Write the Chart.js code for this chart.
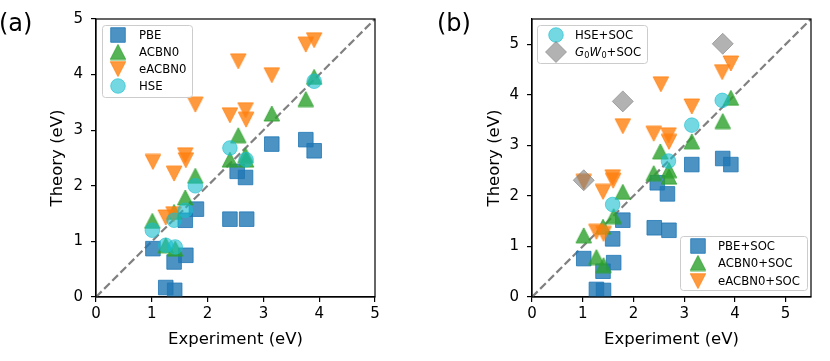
<!DOCTYPE html>
<html><head><meta charset="utf-8">
<script src="https://cdn.jsdelivr.net/npm/chart.js@4/dist/chart.umd.min.js"></script>
<style>
html,body{margin:0;padding:0;background:#fff;}
#wrap{position:relative;width:830px;height:361px;overflow:hidden;}
canvas{position:absolute;top:0;}
#ca{left:0;} #cb{left:415px;}
</style></head><body>
<div id="wrap"><canvas id="ca" width="415" height="361"></canvas><canvas id="cb" width="415" height="361"></canvas></div>
<script>
// ---------- Panel (a) data ----------
const pbeX    = [1.02,1.25,1.41,1.40,1.61,1.60,1.80,2.40,2.70,2.53,2.68,3.15,3.76,3.91];
const pbeY    = [0.87,0.17,0.12,0.63,0.75,1.38,1.58,1.40,1.40,2.26,2.15,2.75,2.83,2.63];
const acbn0X  = [1.01,1.25,1.42,1.40,1.60,1.78,2.40,2.55,2.69,2.68,3.15,3.76,3.91];
const acbn0Y  = [1.37,0.93,0.87,1.53,1.79,2.18,2.47,2.91,2.47,2.55,3.30,3.56,3.96];
const eacbn0X = [1.02,1.40,1.25,1.39,1.60,1.61,1.78,2.40,2.68,2.69,2.55,3.15,3.76,3.91];
const eacbn0Y = [2.43,2.22,1.43,1.49,2.55,2.46,3.46,3.27,3.36,3.19,4.24,3.99,4.54,4.62];
const hseX    = [1.01,1.25,1.42,1.40,1.60,1.78,2.40,2.69,3.91];
const hseY    = [1.20,0.93,0.90,1.38,1.56,2.00,2.68,2.47,3.88];
// ---------- Panel (b) data ----------
const pbeSocX    = [1.02,1.27,1.41,1.40,1.61,1.59,1.79,2.41,2.70,2.47,2.67,3.15,3.76,3.92];
const pbeSocY    = [0.76,0.15,0.13,0.51,0.68,1.15,1.52,1.37,1.32,2.26,2.04,2.62,2.74,2.62];
const acbn0SocX  = [1.02,1.27,1.41,1.40,1.61,1.79,2.40,2.53,2.70,2.70,3.15,3.76,3.92];
const acbn0SocY  = [1.22,0.79,0.63,1.39,1.60,2.08,2.45,2.88,2.51,2.38,3.08,3.48,3.94];
const eacbn0SocX = [1.02,1.27,1.41,1.40,1.59,1.60,1.79,2.40,2.69,2.70,2.54,3.15,3.75,3.92];
const eacbn0SocY = [2.28,1.29,1.25,2.08,2.37,2.30,3.38,3.23,3.20,3.07,4.21,3.77,4.45,4.62];
const hseSocX    = [1.59,2.69,3.15,3.75];
const hseSocY    = [1.83,2.69,3.40,3.89];
const gwSocX     = [1.02,1.79,3.76];
const gwSocY     = [2.31,3.87,5.01];
// ---------- ticks / labels ----------
const ticksA = [0,1,2,3,4,5];
const ticksB = [0,1,2,3,4,5];
const xLabel = 'Experiment (eV)';
const yLabel = 'Theory (eV)';

const FONT = "'DejaVu Sans', sans-serif";
const LEGEND_FONT = 11.7;
const pts = (xs, ys) => xs.map((x, i) => ({x: x, y: ys[i]}));

const C = {
  blue:   'rgba(31,119,180,0.8)',
  green:  'rgba(44,160,44,0.8)',
  orange: 'rgba(255,127,14,0.8)',
  cyan:   'rgba(23,190,207,0.6)',
  gray:   'rgba(127,127,127,0.6)'
};

// matplotlib-like triangle markers (bounding box centred on the data point)
function triCanvas(w, h, down, color) {
  const c = document.createElement('canvas');
  c.width = Math.ceil(w + 2); c.height = Math.ceil(h + 2);
  const g = c.getContext('2d'); const cx = c.width / 2, cy = c.height / 2;
  g.beginPath();
  if (!down) { g.moveTo(cx, cy - h / 2); g.lineTo(cx + w / 2, cy + h / 2); g.lineTo(cx - w / 2, cy + h / 2); }
  else { g.moveTo(cx, cy + h / 2); g.lineTo(cx + w / 2, cy - h / 2); g.lineTo(cx - w / 2, cy - h / 2); }
  g.closePath(); g.fillStyle = color; g.fill(); g.lineWidth = 1; g.strokeStyle = color; g.stroke();
  return c;
}
const triUp = triCanvas(15.5, 15, false, C.green);
const triDn = triCanvas(15.5, 15, true, C.orange);

const STY = {
  rect:  {pointStyle: 'rect', pointRadius: 10.3},
  tri:   {pointStyle: triUp, pointRadius: 8},
  tridn: {pointStyle: triDn, pointRadius: 8},
  circ:  {pointStyle: 'circle', pointRadius: 7.3},
  diam:  {pointStyle: 'rectRot', pointRadius: 10.5}
};

function ds(label, data, color, sty, order) {
  return Object.assign({label: label, data: data, backgroundColor: color, borderColor: color,
    borderWidth: 1, pointBorderWidth: 1, showLine: false, order: order, pointHoverRadius: sty.pointRadius}, sty);
}
function diag(max) {
  return {label: 'y=x', data: [{x: 0, y: 0}, {x: max, y: max}], showLine: true, pointRadius: 0,
    borderColor: '#808080', borderWidth: 2.2, borderDash: [8, 3.5], fill: false, order: 100};
}

function drawMarker(ctx, d, x, y) {
  const r = d.pointRadius, style = d.pointStyle;
  ctx.save();
  if (typeof style === 'object') {
    ctx.drawImage(style, x - style.width / 2, y - style.height / 2);
    ctx.restore(); return;
  }
  ctx.beginPath();
  if (style === 'rect') { const s = r * Math.SQRT1_2; ctx.rect(x - s, y - s, 2 * s, 2 * s); }
  else if (style === 'circle') { ctx.arc(x, y, r, 0, 2 * Math.PI); }
  else if (style === 'rectRot') {
    ctx.moveTo(x, y - r); ctx.lineTo(x + r, y); ctx.lineTo(x, y + r); ctx.lineTo(x - r, y); ctx.closePath();
  }
  ctx.fillStyle = d.backgroundColor; ctx.fill();
  ctx.lineWidth = d.borderWidth; ctx.strokeStyle = d.borderColor; ctx.stroke();
  ctx.restore();
}
function roundRect(ctx, x, y, w, h, r) {
  ctx.beginPath(); ctx.moveTo(x + r, y); ctx.lineTo(x + w - r, y); ctx.arcTo(x + w, y, x + w, y + r, r);
  ctx.lineTo(x + w, y + h - r); ctx.arcTo(x + w, y + h, x + w - r, y + h, r);
  ctx.lineTo(x + r, y + h); ctx.arcTo(x, y + h, x, y + h - r, r);
  ctx.lineTo(x, y + r); ctx.arcTo(x, y, x + r, y, r); ctx.closePath();
}
function drawRich(ctx, label, x, y, size) {
  // render G0W0-style labels with italic letters and subscripts
  const m = label.match(/^G₀W₀(.*)$/);
  ctx.textBaseline = 'middle'; ctx.textAlign = 'left'; ctx.fillStyle = '#000';
  if (!m) { ctx.font = size + 'px ' + FONT; ctx.fillText(label, x, y); return; }
  const segs = [['G', 'i'], ['0', 's'], ['W', 'i'], ['0', 's'], [m[1], 'n']];
  let cx = x;
  for (const [t, k] of segs) {
    let f = size, dy = 0, st = '';
    if (k === 'i') st = 'italic ';
    if (k === 's') { f = size * 0.7; dy = 2.9; }
    ctx.font = st + f + 'px ' + FONT;
    ctx.fillText(t, cx, y + dy);
    cx += ctx.measureText(t).width + (k === 'i' ? 0.3 : 0);
  }
}

const insetLegend = {
  id: 'insetLegend',
  afterDatasetsDraw(chart, args, opts) {
    const ctx = chart.ctx;
    (opts.boxes || []).forEach(b => {
      ctx.save();
      roundRect(ctx, b.x + 0.5, b.y + 0.5, b.w, b.h, 3);
      ctx.fillStyle = 'rgba(255,255,255,0.8)'; ctx.fill();
      ctx.strokeStyle = '#cccccc'; ctx.lineWidth = 1; ctx.stroke();
      b.items.forEach((idx, i) => {
        const d = chart.data.datasets[idx];
        const yy = b.rows[i];
        drawMarker(ctx, d, b.mx, yy);
        drawRich(ctx, d.label, b.tx, yy + 0.5, b.font);
      });
      ctx.restore();
    });
  }
};
const frame = {
  id: 'frame',
  afterDraw(chart, args, opts) {
    const a = chart.chartArea, ctx = chart.ctx;
    ctx.save(); ctx.strokeStyle = '#000'; ctx.lineWidth = 1.2;
    ctx.strokeRect(a.left, a.top, a.right - a.left, a.bottom - a.top);
    ctx.font = opts.size + 'px ' + FONT; ctx.fillStyle = '#000'; ctx.textBaseline = 'alphabetic'; ctx.textAlign = 'left';
    ctx.fillText(opts.text, opts.x, opts.y);
    ctx.restore();
  }
};

function scales(max, ticks, yw, yTitlePad) {
  const tickOpts = {font: {family: FONT, size: 15}, color: '#000', stepSize: 1, includeBounds: false,
    autoSkip: false, maxRotation: 0};
  const grid = {display: true, drawOnChartArea: false, drawTicks: true, tickLength: 5, color: '#000', lineWidth: 1.2};
  const border = {display: true, color: '#000', width: 1.2};
  return {
    x: {type: 'linear', min: 0, max: max, grid: grid, border: border,
      ticks: Object.assign({padding: 3, callback: v => ticks.includes(v) ? String(v) : ''}, tickOpts),
      title: {display: true, text: xLabel, color: '#000', font: {family: FONT, size: 16.5}, padding: {top: 0, bottom: 11}},
      afterFit: s => { s.height = 64; }},
    y: {type: 'linear', min: 0, max: max, grid: grid, border: border,
      ticks: Object.assign({padding: 8, callback: v => ticks.includes(v) ? String(v) : ''}, tickOpts),
      title: {display: true, text: yLabel, color: '#000', font: {family: FONT, size: 16.5}, padding: {top: yTitlePad, bottom: 0}},
      afterFit: s => { s.width = yw; }}
  };
}
function baseOpts(max, ticks, yw, yTitlePad, pad, legendBoxes, label) {
  return {
    responsive: false, animation: false, devicePixelRatio: 1,
    layout: {padding: pad},
    scales: scales(max, ticks, yw, yTitlePad),
    plugins: {legend: {display: false}, tooltip: {enabled: false},
      insetLegend: {boxes: legendBoxes}, frame: label},
    events: []
  };
}

new Chart(document.getElementById('ca'), {
  type: 'scatter',
  data: {datasets: [
    diag(5),
    ds('PBE', pts(pbeX, pbeY), C.blue, STY.rect, 4),
    ds('ACBN0', pts(acbn0X, acbn0Y), C.green, STY.tri, 3),
    ds('eACBN0', pts(eacbn0X, eacbn0Y), C.orange, STY.tridn, 2),
    ds('HSE', pts(hseX, hseY), C.cyan, STY.circ, 1)
  ]},
  options: baseOpts(5, ticksA, 96, 48, {top: 19, right: 40, left: 0, bottom: 0},
    [{x: 102, y: 25, w: 90, h: 72, mx: 118, tx: 139, font: LEGEND_FONT, items: [1, 2, 3, 4], rows: [35, 52, 69, 86]}],
    {text: '(a)', x: -1, y: 31, size: 24}),
  plugins: [insetLegend, frame]
});

new Chart(document.getElementById('cb'), {
  type: 'scatter',
  data: {datasets: [
    diag(5.5),
    ds('PBE+SOC', pts(pbeSocX, pbeSocY), C.blue, STY.rect, 5),
    ds('ACBN0+SOC', pts(acbn0SocX, acbn0SocY), C.green, STY.tri, 4),
    ds('eACBN0+SOC', pts(eacbn0SocX, eacbn0SocY), C.orange, STY.tridn, 3),
    ds('HSE+SOC', pts(hseSocX, hseSocY), C.cyan, STY.circ, 2),
    ds('G₀W₀+SOC', pts(gwSocX, gwSocY), C.gray, STY.diam, 1)
  ]},
  options: baseOpts(5.5, ticksB, 117, 70, {top: 19, right: 19, left: 0, bottom: 0},
    [{x: 122, y: 25, w: 110, h: 38, mx: 141, tx: 160, font: LEGEND_FONT, items: [4, 5], rows: [35, 52]},
     {x: 265, y: 236, w: 127, h: 54, mx: 283, tx: 303, font: LEGEND_FONT, items: [1, 2, 3], rows: [246, 263, 281]}],
    {text: '(b)', x: 22, y: 31, size: 24}),
  plugins: [insetLegend, frame]
});
</script>
</body></html>
